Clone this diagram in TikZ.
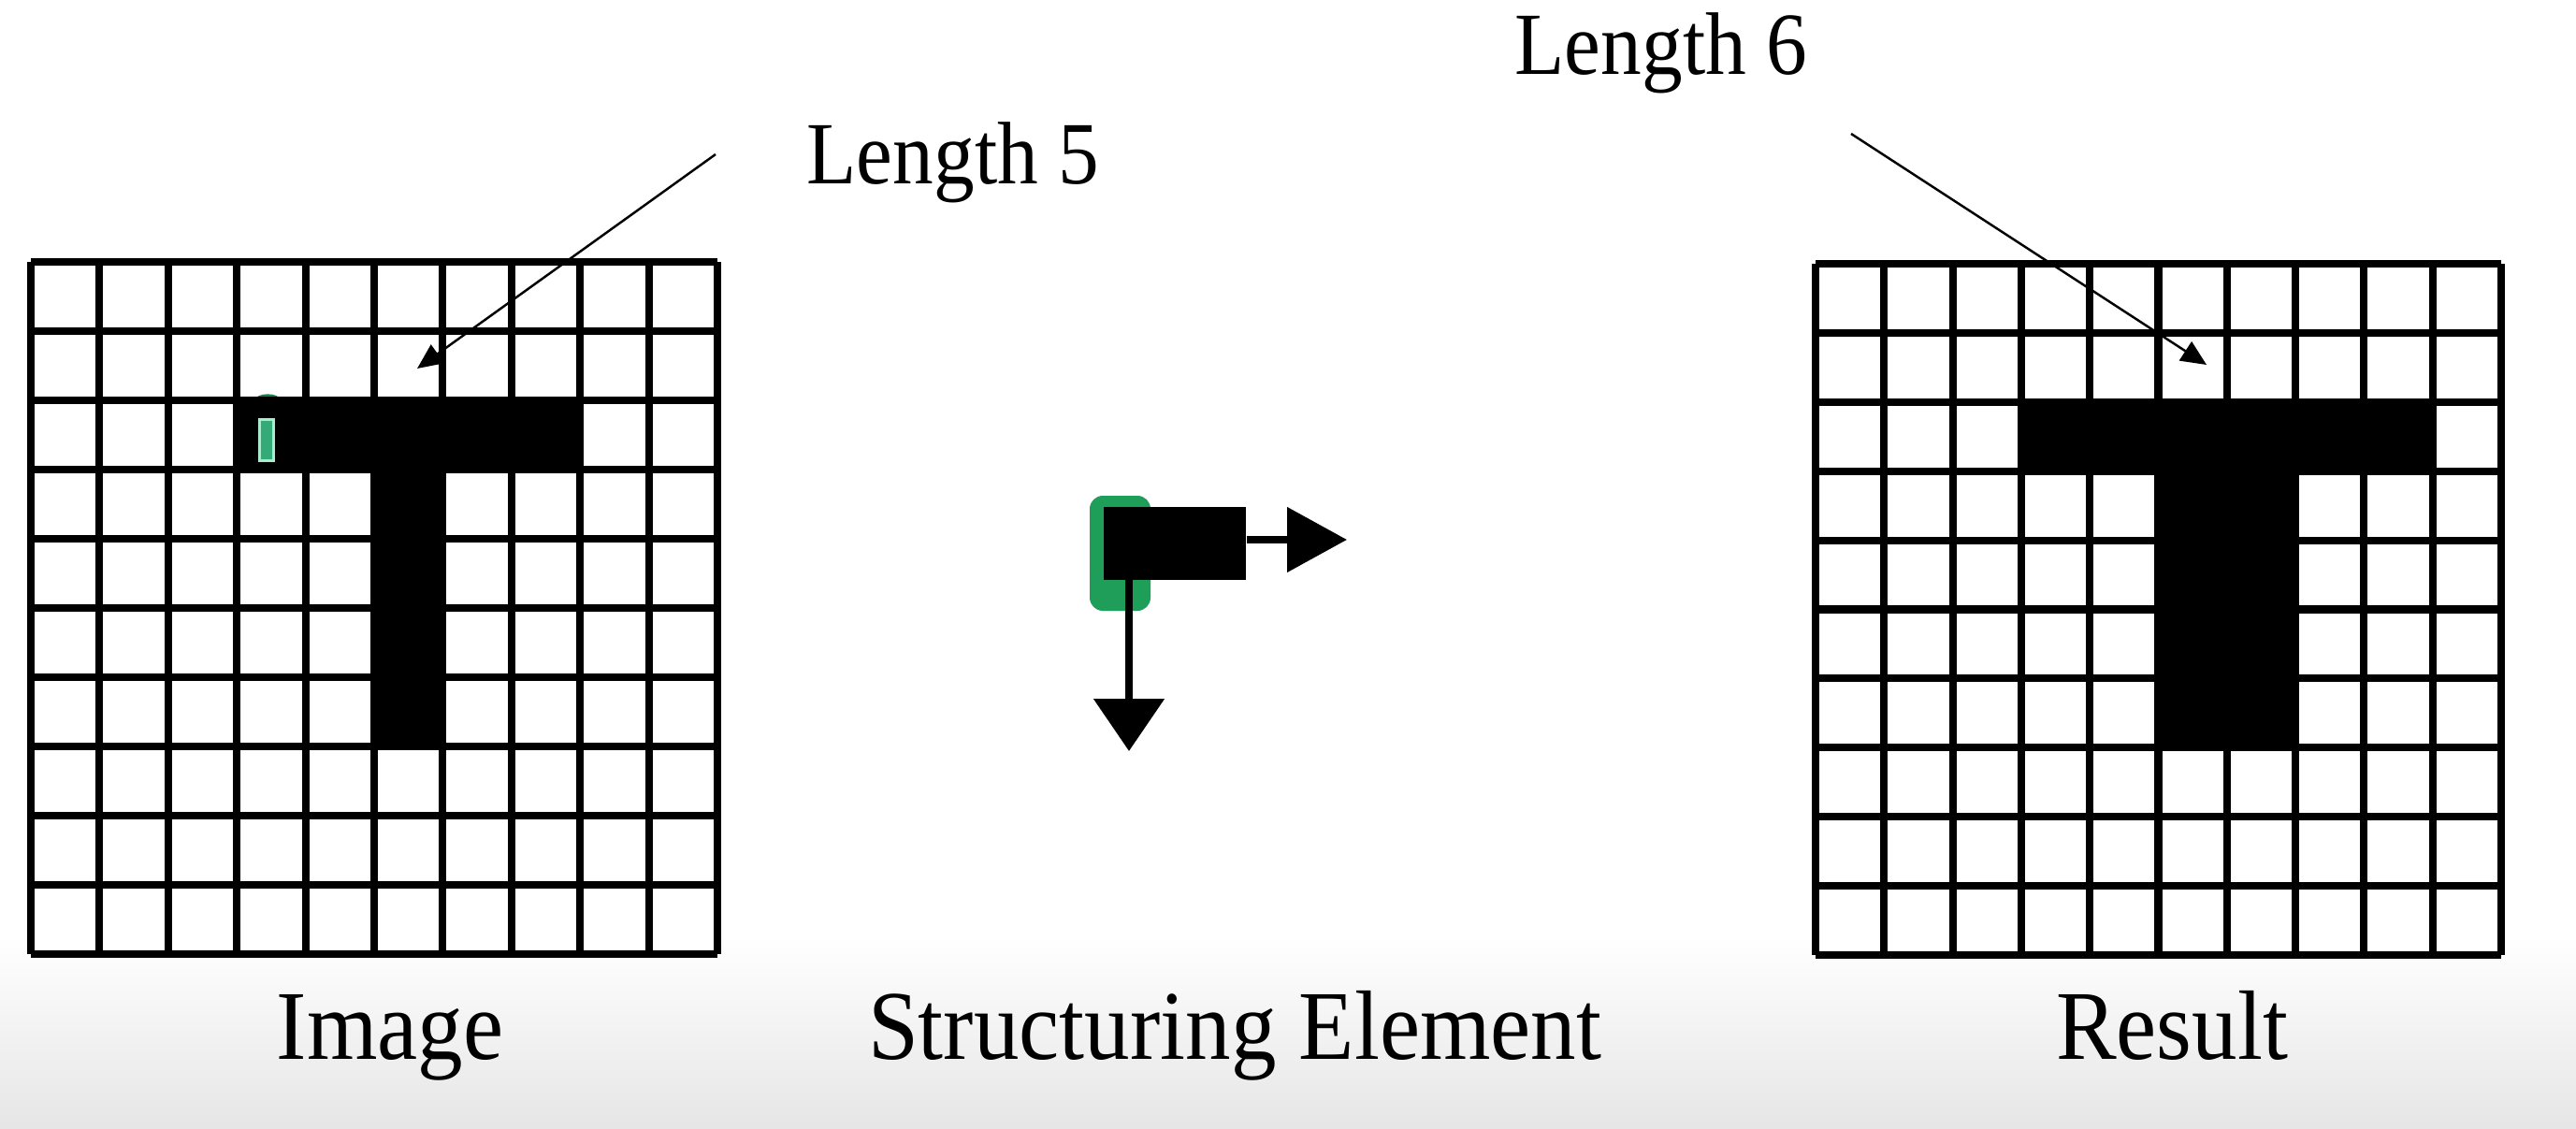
\documentclass[tikz,border=0pt]{standalone}
\usepackage{fontspec}
\setmainfont{Liberation Serif}[FakeStretch=0.92]
\usepackage{tikz}
\usetikzlibrary{arrows.meta,positioning,calc}
\definecolor{blobgreen}{RGB}{30,158,88}
\definecolor{markgreen}{RGB}{52,170,120}
\definecolor{markedge}{RGB}{170,235,205}

\begin{document}
\begin{tikzpicture}[
    gridline/.style={line width=2.3pt},
    caption/.style={anchor=base, font=\fontsize{30}{36}\selectfont},
    lenlabel/.style={anchor=base, font=\fontsize{27}{32}\selectfont},
    callout/.style={line width=0.7pt, -{Triangle[length=0.27cm,width=0.24cm]}},
    moveright/.style={line width=2.3pt, -{Triangle[length=0.64cm,width=0.68cm]}},
    movedown/.style={line width=2.5pt, -{Triangle[length=0.56cm,width=0.74cm]}}]
  \useasboundingbox (0,0) rectangle (27.54,-12.07);
  % Background strip
  \shade[top color=white, bottom color=gray!20] (0,-10.0) rectangle (27.54,-12.07);

  % Image grid
  \begin{scope}[shift={(0.33,-2.80)}, xscale=0.734, yscale=0.74]
    \fill[white] (0,0) rectangle (10,-10);
    \fill[blobgreen!80!black] (3.45,-1.99) ellipse (0.18 and 0.08);
    \fill[black] (3,-2) rectangle (8,-3);
    \fill[black] (5,-3) rectangle (6,-7);
    \draw[gridline] (0,-10) grid (10,0);
    \filldraw[fill=markgreen, draw=markedge, line width=0.8pt]
      (3.33,-2.28) rectangle (3.54,-2.87);
  \end{scope}

  % Result grid
  \begin{scope}[shift={(19.41,-2.82)}, xscale=0.733, yscale=0.739]
    \fill[white] (0,0) rectangle (10,-10);
    \fill[black] (3,-2) rectangle (9,-3);
    \fill[black] (5,-3) rectangle (7,-7);
    \draw[gridline] (0,-10) grid (10,0);
  \end{scope}

  % Structuring element
  \fill[blobgreen, rounded corners=0.14cm] (11.65,-5.30) rectangle (12.30,-6.53);
  \node[fill=black, minimum width=1.52cm, minimum height=0.78cm, inner sep=0pt]
    (seblock) at (12.56,-5.81) {};
  \coordinate (rightend) at (14.40,-5.77);
  \coordinate (downstart) at (12.07,-6.20);
  \coordinate (downend) at (12.07,-8.03);
  \draw[moveright] (seblock.east |- rightend) -- (rightend);
  \draw[movedown] (downstart) -- (downend);

  % Length callouts
  \node[lenlabel] (len5) at (10.19,-1.97) {Length 5};
  \node[lenlabel] (len6) at (17.76,-0.80) {Length 6};
  \coordinate (len5tail) at (7.65,-1.65);
  \coordinate (len5tip) at (4.46,-3.94);
  \coordinate (len6tail) at (19.79,-1.43);
  \coordinate (len6tip) at (23.59,-3.90);
  \draw[callout] (len5tail) -- (len5tip);
  \draw[callout] (len6tail) -- (len6tip);

  % Captions
  \node[caption] (imgcap) at (4.17,-11.32) {Image};
  \node[caption] (secap) at (13.20,-11.32) {Structuring Element};
  \node[caption] (rescap) at (23.22,-11.32) {Result};
\end{tikzpicture}
\end{document}
